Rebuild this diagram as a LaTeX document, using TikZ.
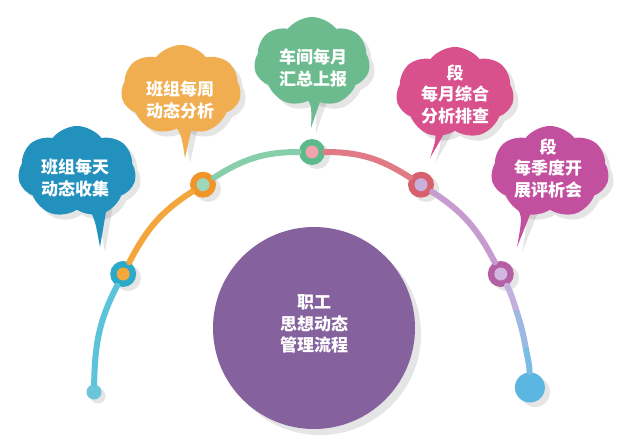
\documentclass[tikz,border=0pt]{standalone}
\usepackage{fontspec}
\newfontfamily\cjk{Noto Sans CJK SC}
\usetikzlibrary{shapes.symbols,calc}
\definecolor{cBlue}{HTML}{2291BE}
\definecolor{cOrange}{HTML}{F0AE50}
\definecolor{cGreen}{HTML}{6BBB8E}
\definecolor{cPink}{HTML}{D8508C}
\definecolor{cMag}{HTML}{C2509F}
\definecolor{cPurple}{HTML}{85629D}
\definecolor{lA}{HTML}{5CC4DA}
\definecolor{rA}{HTML}{2AA9C8}
\definecolor{dA}{HTML}{F5A83A}
\definecolor{lB}{HTML}{F2A63C}
\definecolor{rB}{HTML}{F0952A}
\definecolor{dB}{HTML}{9ED8BC}
\definecolor{lC}{HTML}{86CFAA}
\definecolor{rC}{HTML}{5DB98A}
\definecolor{dC}{HTML}{F2A4AE}
\definecolor{lD}{HTML}{E07A84}
\definecolor{rD}{HTML}{D8606C}
\definecolor{dD}{HTML}{C9B0DC}
\definecolor{lE}{HTML}{C59BD0}
\definecolor{rE}{HTML}{B55FA5}
\definecolor{dE}{HTML}{D0B8E0}
\definecolor{lF}{HTML}{C3B0DE}
\definecolor{lG}{HTML}{9DB9E3}
\definecolor{lH}{HTML}{79BCE4}
\definecolor{cEnd}{HTML}{5CB6E2}
\definecolor{cStart}{HTML}{6CC6DA}
\newcommand\bubble[8]{%
  \node[cloudbody, fill=black, fill opacity=0.10, minimum width=#3, minimum height=#4] (#1s) at ($(#2)+(5,5)$) {};
  \fill[black, fill opacity=0.10] ($(#6)+(5,5)$) .. controls ($(#6)!0.5!(#8)+(5,19)$) .. ($(#7)+(5,5)$) -- ($(#8)+(5,5)$) -- cycle;
  \node[cloudbody, fill=#5, minimum width=#3, minimum height=#4] (#1) at (#2) {};
  \fill[#5] (#6) .. controls ($(#6)!0.5!(#8)+(0,14)$) .. (#7) -- (#8) -- cycle;
}
\begin{document}
\begin{tikzpicture}[x=1pt,y=-1pt,
  cloudbody/.style={cloud, cloud puffs=7, cloud puff arc=105, aspect=1.3, inner sep=0pt, draw=none},
  lbl/.style={text=white, font=\cjk\bfseries\fontsize{17}{21.5}\selectfont, align=center, inner sep=0pt},
  seg/.style={line width=6pt, line cap=round},
  ring/.style={circle, minimum size=26pt, inner sep=0pt},
  dotc/.style={circle, minimum size=13pt, inner sep=0pt},
  shad/.style={circle, fill=black, fill opacity=0.10, inner sep=0pt},
]
\useasboundingbox[fill=white] (0,0) rectangle (640,442);

% big circle
\node[shad, minimum size=202pt] (bcs) at (320,334) {};
\node[circle, fill=cPurple, minimum size=202pt, inner sep=0pt] (bc) at (314,328) {};
\node[lbl] (t6) at (314,324) {职工\\思想动态\\管理流程};

% clouds
\bubble{c1}{77,172}{118pt}{92pt}{cBlue}{80,200}{100,247}{108,200}
\bubble{c2}{181,90}{120pt}{90pt}{cOrange}{168,118}{185,158}{194,118}
\bubble{c3}{312,62}{116pt}{90pt}{cGreen}{300,90}{311,128}{324,90}
\bubble{c4}{455,93}{118pt}{92pt}{cPink}{424,120}{430,158}{452,120}
\bubble{c5}{550,172}{118pt}{92pt}{cMag}{510,200}{517,247}{536,200}

\node[lbl] (t1) at (75,178) {班组每天\\动态收集};
\node[lbl] (t2) at (180,100) {班组每周\\动态分析};
\node[lbl] (t3) at (313,68) {车间每月\\汇总上报};
\node[lbl] (t4) at (455,94) {段\\每月综合\\分析排查};
\node[lbl] (t5) at (548,168) {段\\每季度开\\展评析会};

% arc markers
\node[shad, minimum size=15pt] (p0s) at (98,396) {};
\node[shad, minimum size=26pt] (m1s) at (128,278) {};
\node[shad, minimum size=26pt] (m2s) at (208,189) {};
\node[shad, minimum size=26pt] (m3s) at (317,156) {};
\node[shad, minimum size=26pt] (m4s) at (426,189) {};
\node[shad, minimum size=26pt] (m5s) at (506,278) {};
\node[shad, minimum size=30pt] (p6s) at (535,392) {};

\node[circle, fill=cStart, minimum size=15pt, inner sep=0pt] (p0) at (94,392) {};
\node[ring, fill=rA] (m1) at (123.2,274) {};
\node[ring, fill=rB] (m2) at (203,184.7) {};
\node[ring, fill=rC] (m3) at (312,152) {};
\node[ring, fill=rD] (m4) at (421,184.7) {};
\node[ring, fill=rE] (m5) at (500.8,274) {};
\coordinate (q1) at (516.9,312.5);
\coordinate (q2) at (526.0,349.4);
\node[circle, fill=cEnd, minimum size=30pt, inner sep=0pt] (p6) at (529.9,387.5) {};

% connectors
\draw[seg, draw=lA] (p0) to[out=89, in=242.7] (m1);
\draw[seg, draw=lB] (m1) to[out=62.7, in=212.9] (m2);
\draw[seg, draw=lC] (m2) to[out=32.9, in=180] (m3);
\draw[seg, draw=lD] (m3) to[out=0, in=147.1] (m4);
\draw[seg, draw=lE] (m4) to[out=-32.9, in=117.3] (m5);
\draw[seg, draw=lF] (m5) to[out=-62.7, in=108] (q1);
\draw[seg, draw=lG] (q1) to[out=-72, in=99.9] (q2);
\draw[seg, draw=lH] (q2) to[out=-80.1, in=91.8] (p6);

\node[dotc, fill=dA] (d1) at (m1) {};
\node[dotc, fill=dB] (d2) at (m2) {};
\node[dotc, fill=dC] (d3) at (m3) {};
\node[dotc, fill=dD] (d4) at (m4) {};
\node[dotc, fill=dE] (d5) at (m5) {};
\end{tikzpicture}
\end{document}
